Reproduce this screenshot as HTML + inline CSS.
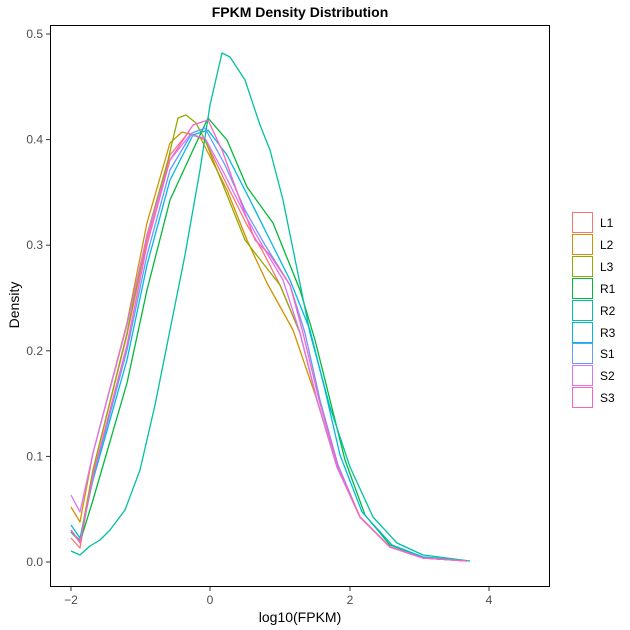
<!DOCTYPE html>
<html><head><style>body{margin:0;background:#fff}svg{display:block}</style></head><body>
<svg width="630" height="630" xmlns="http://www.w3.org/2000/svg" font-family="Liberation Sans, sans-serif">
<rect width="630" height="630" fill="#fff"/>
<text x="300" y="17" text-anchor="middle" font-size="14" font-weight="bold">FPKM Density Distribution</text>
<g fill="none" stroke-width="1.3" stroke-linejoin="round">
<polyline stroke="#F8766D" points="71,538 80,548 93,470 127,335 147,240 170,155 188,133 205,140 227,185 247,225 262,250 280,285 300,333 317,400 337,467 360,517 390,547 423,558 467,561"/>
<polyline stroke="#D39200" points="71,507 80,522 93,453 127,323 147,223 170,143 182,132 200,137 227,190 247,240 267,283 293,330 317,400 337,467 360,517 390,547 423,558 467,561"/>
<polyline stroke="#93AA00" points="71,532 80,540 93,470 127,333 147,235 168,160 178,118 186,115 196,123 205,140 227,195 245,240 262,262 280,285 300,333 317,400 337,467 360,517 390,547 423,558 467,561"/>
<polyline stroke="#00BA38" points="71,532 80,542 93,500 127,383 147,290 170,200 193,150 208,118 227,140 247,187 273,223 300,290 315,340 330,400 345,460 365,515 390,545 423,557 467,561"/>
<polyline stroke="#00C19F" points="71,551 80,555 90,546 100,540 110,530 125,510 140,470 155,405 170,330 185,255 200,170 210,105 222,53 230,57 245,80 260,125 270,150 283,200 310,333 330,407 350,467 373,517 397,543 423,555 470,561"/>
<polyline stroke="#00B9E3" points="71,525 80,538 93,480 127,360 147,265 170,180 193,135 208,130 227,155 250,200 270,240 290,280 310,330 325,390 340,455 362,512 392,545 423,557 467,561"/>
<polyline stroke="#619CFF" points="71,530 80,542 93,478 127,350 147,255 170,170 192,133 205,128 225,165 245,210 265,245 290,285 305,333 320,400 338,465 360,517 390,547 423,558 467,561"/>
<polyline stroke="#DB72FB" points="71,495 80,512 93,453 127,325 147,235 170,160 190,135 205,138 225,175 245,215 265,250 283,280 300,333 317,400 337,467 360,517 390,547 423,558 467,561"/>
<polyline stroke="#FF61C3" points="71,530 80,543 93,475 127,345 147,245 170,160 193,125 208,120 222,150 240,200 255,240 270,255 290,285 303,333 319,400 338,467 360,517 390,547 423,558 467,561"/>
</g>
<rect x="50.5" y="25.5" width="499" height="561" fill="none" stroke="#000" stroke-width="1"/>
<g stroke="#333" stroke-width="1">
<line x1="46" x2="50" y1="562" y2="562"/><line x1="46" x2="50" y1="456.4" y2="456.4"/><line x1="46" x2="50" y1="350.8" y2="350.8"/><line x1="46" x2="50" y1="245.2" y2="245.2"/><line x1="46" x2="50" y1="139.6" y2="139.6"/><line x1="46" x2="50" y1="34" y2="34"/>
<line x1="71" x2="71" y1="587" y2="591"/><line x1="210" x2="210" y1="587" y2="591"/><line x1="350" x2="350" y1="587" y2="591"/><line x1="489" x2="489" y1="587" y2="591"/>
</g>
<g font-size="12" fill="#4d4d4d" text-anchor="end">
<text x="43" y="566">0.0</text><text x="43" y="460.4">0.1</text><text x="43" y="354.8">0.2</text><text x="43" y="249.2">0.3</text><text x="43" y="143.6">0.4</text><text x="43" y="38">0.5</text>
</g>
<g font-size="12" fill="#4d4d4d" text-anchor="middle">
<text x="71" y="604">−2</text><text x="210" y="604">0</text><text x="350" y="604">2</text><text x="489" y="604">4</text>
</g>
<text x="300" y="622" text-anchor="middle" font-size="14">log10(FPKM)</text>
<text transform="translate(19,305) rotate(-90)" text-anchor="middle" font-size="14">Density</text>
<g font-size="12" fill="#000">
<rect x="572.5" y="212.5" width="20" height="20" fill="none" stroke="#F8766D"/><text x="600" y="227">L1</text>
<rect x="572.5" y="234.5" width="20" height="20" fill="none" stroke="#D39200"/><text x="600" y="249">L2</text>
<rect x="572.5" y="256.5" width="20" height="20" fill="none" stroke="#93AA00"/><text x="600" y="271">L3</text>
<rect x="572.5" y="278.5" width="20" height="20" fill="none" stroke="#00BA38"/><text x="600" y="293">R1</text>
<rect x="572.5" y="300.5" width="20" height="20" fill="none" stroke="#00C19F"/><text x="600" y="315">R2</text>
<rect x="572.5" y="322.5" width="20" height="20" fill="none" stroke="#00B9E3"/><text x="600" y="337">R3</text>
<rect x="572.5" y="343.5" width="20" height="20" fill="none" stroke="#619CFF"/><text x="600" y="358">S1</text>
<rect x="572.5" y="365.5" width="20" height="20" fill="none" stroke="#DB72FB"/><text x="600" y="380">S2</text>
<rect x="572.5" y="387.5" width="20" height="20" fill="none" stroke="#FF61C3"/><text x="600" y="402">S3</text>
</g>
</svg>
</body></html>
